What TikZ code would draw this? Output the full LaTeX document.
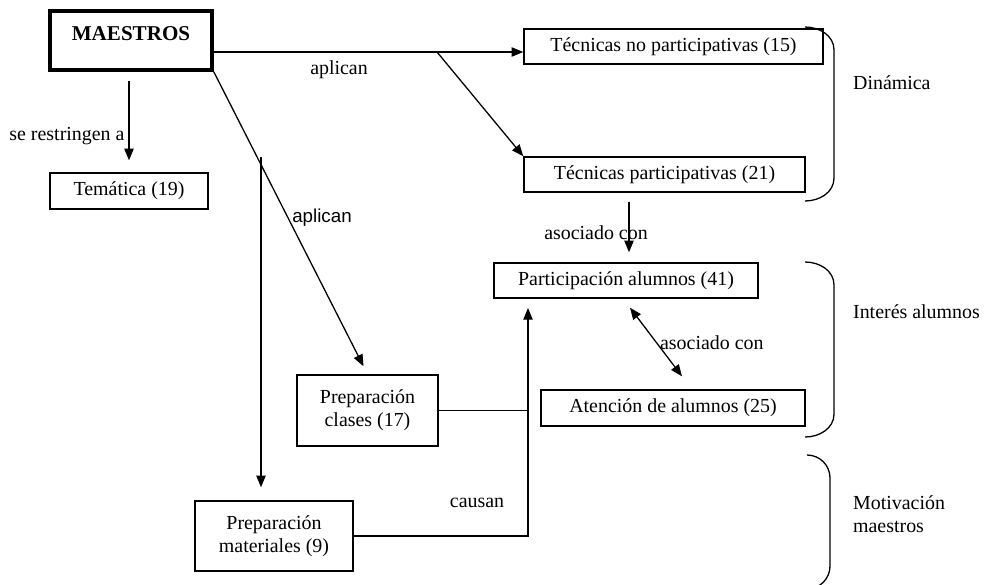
\documentclass[tikz,border=0pt]{standalone}
\usepackage{fontspec}
\setmainfont{Liberation Serif}
\setsansfont{Liberation Sans}
\usetikzlibrary{arrows.meta,calc}
\tikzset{
  caja/.style={draw,line width=1.2pt,inner sep=0pt,align=center},
  linea/.style={draw,line width=1.1pt},
  flecha/.style={linea,->},
  llave/.style={draw,line width=1.1pt},
}
\begin{document}
\begin{tikzpicture}[x=0.03cm,y=-0.03cm,font=\fontsize{17}{19.5}\selectfont,>={Triangle[length=10pt,width=8pt]}]
\useasboundingbox (0,0) rectangle (986,584);
\node [caja,line width=3pt,minimum width=4.86cm,text height=0.87cm,text depth=0.9cm,font=\fontsize{18}{20}\selectfont\bfseries,anchor=base] (maestros) at (131,40) {MAESTROS};
\node [caja,minimum width=8.97cm,minimum height=1.05cm] (tecno) at (673.5,46.5) {Técnicas no participativas (15)};
\node [caja,minimum width=8.43cm,minimum height=1.05cm] (tecpart) at (664.5,174.5) {Técnicas participativas (21)};
\node [caja,minimum width=4.74cm,minimum height=1.08cm] (tematica) at (129,191) {Temática (19)};
\node [caja,minimum width=7.92cm,minimum height=1.05cm] (partic) at (626,280.5) {Participación alumnos (41)};
\node [caja,minimum width=7.92cm,minimum height=1.08cm] (atencion) at (673,408) {Atención de alumnos (25)};
\node [caja,minimum width=4.23cm,minimum height=2.13cm] (prepcl) at (367.5,410.5) {Preparación\\clases (17)};
\node [caja,minimum width=4.74cm,minimum height=2.1cm] (prepmat) at (274,536) {Preparación\\materiales (9)};

\coordinate (cruce) at (437,52);
\draw [flecha] (maestros.east |- cruce) -- (tecno.west |- cruce);
\draw [flecha] (cruce) -- (tecpart.north west);
\draw [flecha] (maestros.south east) -- ($(prepcl.north)+(-4,-8)$);
\node at (339,70) {aplican};
\node [font=\fontsize{16}{18}\selectfont\sffamily] at (322,218) {aplican};
\coordinate (bajada) at (261,157);
\draw [flecha] (bajada) -- ($(bajada |- prepmat.north)+(0,-13)$);
\draw [flecha] ($(maestros.south)+(-2,9)$) -- ($(tematica.north)+(0,-12)$) node [pos=0.7,left] {se restringen a};
\draw [flecha] ($(partic.north |- tecpart.south)+(3,9)$) -- ($(partic.north)+(3,-10)$);
\node at (596,233) {asociado con};
\draw [linea,<->] ($(partic.south)+(4,9)$) -- ($(atencion.north)+(9,-13)$);
\node [anchor=west] at (656,343) {asociado con};
\coordinate (subida) at (528,308);
\draw [flecha] (prepmat.east) -| (subida);
\draw [linea] (prepcl.east) -- (prepcl.east -| subida);
\node at (477,503) {causan};

\draw [llave] (805,27) to[out=0,in=90] (834,50) -- (834,178) to[out=-90,in=0] (805,201);
\draw [llave] (805,262) to[out=0,in=90] (834,285) -- (834,414) to[out=-90,in=0] (805,437);
\draw [llave] (807,455) to[out=0,in=90] (830,478) -- (830,566) to[out=-90,in=0] (807,589);
\node [anchor=west] at (849,83) {Dinámica};
\node [anchor=west] at (849,312) {Interés alumnos};
\node [anchor=west,align=left] at (849,514) {Motivación\\maestros};
\end{tikzpicture}
\end{document}
